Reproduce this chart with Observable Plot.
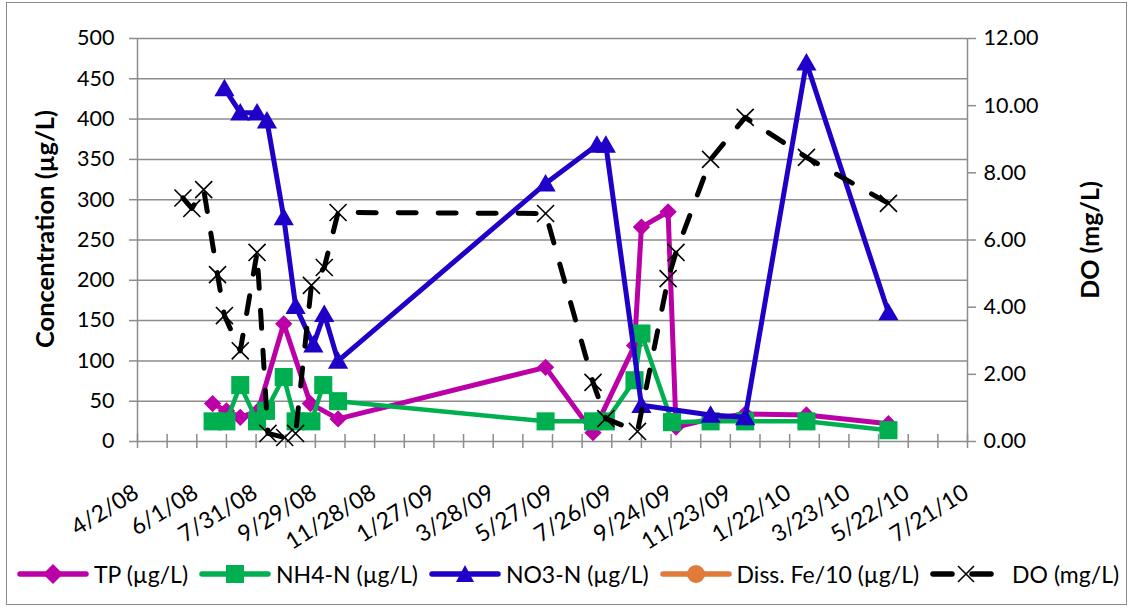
<!DOCTYPE html>
<html>
<head>
<meta charset="utf-8">
<script src="https://cdn.jsdelivr.net/npm/d3@7"></script>
<script src="https://cdn.jsdelivr.net/npm/@observablehq/plot@0.6"></script>
<style>
  html, body { margin: 0; padding: 0; background: #fff; }
  #wrap { position: relative; width: 1130px; height: 608px; font-family: Lato, "DejaVu Sans", sans-serif; }
  #border { position: absolute; left: 6px; top: 2px; width: 1121px; height: 603px; border: 1px solid #8a8a8a; box-sizing: border-box; pointer-events: none; }
  #legend { position: absolute; left: 17px; top: 542px; height: 64px; display: flex; align-items: center; font-size: 23px; color: #000; white-space: nowrap; }
  #legend .item { display: flex; align-items: center; margin-right: 11px; }
  #legend .item span { margin-left: 5px; }
</style>
</head>
<body>
<div id="wrap"><div id="chart"></div><div id="legend"></div><div id="border"></div></div>
<script>
// ---------- data ----------
const xTickLabels = ["4/2/08","6/1/08","7/31/08","9/29/08","11/28/08","1/27/09","3/28/09","5/27/09","7/26/09","9/24/09","11/23/09","1/22/10","3/23/10","5/22/10","7/21/10"];
const yTicks = [0,50,100,150,200,250,300,350,400,450,500];
const doTicks = [0,2,4,6,8,10,12];

const tpDates  = ["2008-06-17","2008-07-01","2008-07-15","2008-08-02","2008-08-28","2008-09-24","2008-10-22","2009-05-20","2009-07-07","2009-08-18","2009-08-25","2009-09-21","2009-09-29","2009-11-03","2009-12-08","2010-02-08","2010-05-02"];
const tpValues = [47,38,30,38,146,47,28,92,11,119,266,285,18,28,34,33,22];

const nh4Dates  = ["2008-06-17","2008-07-01","2008-07-15","2008-08-01","2008-08-10","2008-08-28","2008-09-09","2008-09-25","2008-10-07","2008-10-22","2009-05-20","2009-07-07","2009-07-20","2009-08-18","2009-08-25","2009-09-25","2009-11-03","2009-12-08","2010-02-08","2010-05-02"];
const nh4Values = [25,25,70,25,38,80,25,25,70,50,25,25,25,76,134,24,25,25,25,14];

const no3Dates  = ["2008-06-29","2008-07-15","2008-08-01","2008-08-11","2008-08-28","2008-09-09","2008-09-27","2008-10-08","2008-10-22","2009-05-20","2009-07-11","2009-07-20","2009-08-25","2009-11-03","2009-12-08","2010-02-08","2010-05-02"];
const no3Values = [438,408,408,398,278,168,120,158,100,320,368,368,45,33,30,470,160];

const feDates  = [];
const feValues = [];

const doDates  = ["2008-05-18","2008-05-27","2008-06-08","2008-06-22","2008-06-29","2008-07-15","2008-08-01","2008-08-12","2008-08-29","2008-09-09","2008-09-25","2008-10-08","2008-10-22","2009-05-20","2009-07-07","2009-07-20","2009-08-21","2009-09-21","2009-09-29","2009-11-03","2009-12-08","2010-02-08","2010-05-02"];
const doValues = [7.25,6.94,7.5,4.97,3.75,2.7,5.63,0.24,0.12,0.24,4.65,5.18,6.82,6.79,1.76,0.68,0.3,4.85,5.63,8.4,9.65,8.46,7.09];

const seriesNames = ["TP (µg/L)","NH4-N (µg/L)","NO3-N (µg/L)","Diss. Fe/10 (µg/L)","DO (mg/L)"];
const colors = ["#BC00A8","#00B050","#1E00C8","#E07B39","#000000"];

// ---------- build ----------
const parseTick = d3.utcParse("%m/%d/%y");
const tickDates = xTickLabels.map(parseTick);
const start = tickDates[0], end = tickDates[tickDates.length - 1];
const minorTicks = d3.range(0, 29).map(i => d3.utcDay.offset(start, 30 * i));
const rows = (dates, vals) => dates.map((d, i) => ({date: new Date(d + "T00:00:00Z"), value: vals[i]}));
const tp = rows(tpDates, tpValues), nh4 = rows(nh4Dates, nh4Values), no3 = rows(no3Dates, no3Values), fe = rows(feDates, feValues), dO = rows(doDates, doValues);
const k = 500 / 12;

const chart = Plot.plot({
  width: 1130, height: 540,
  marginLeft: 137, marginRight: 163, marginTop: 38, marginBottom: 99,
  style: {fontFamily: "Lato, sans-serif", fontSize: "21px", color: "#000", background: "transparent", overflow: "visible"},
  x: {type: "utc", domain: [start, end], axis: null},
  y: {domain: [0, 500]},
  marks: [
    Plot.gridY(yTicks.slice(1), {stroke: "#8c8c8c", strokeOpacity: 1, strokeWidth: 1.5}),
    Plot.ruleX([start, end], {stroke: "#8c8c8c", strokeWidth: 1.5}),
    Plot.ruleY([0], {stroke: "#8c8c8c", strokeWidth: 1.5}),
    Plot.ruleX(minorTicks, {y1: () => 0, y2: () => 0, insetTop: -7, insetBottom: -7, stroke: "#8c8c8c", strokeWidth: 1.5}),
    Plot.axisY(yTicks, {anchor: "left", tickSize: 8, tickPadding: 15, stroke: "#8c8c8c", strokeWidth: 1.5, fill: "#000", label: null, fontSize: 21.5}),
    Plot.axisY(doTicks.map(d => d * k), {anchor: "right", tickSize: 8, tickPadding: 8, stroke: "#8c8c8c", strokeWidth: 1.5, fill: "#000", label: null, fontSize: 21.5, tickFormat: d => (d / k).toFixed(2)}),
    Plot.text(xTickLabels, {x: (d, i) => tickDates[i], frameAnchor: "bottom", rotate: -32, textAnchor: "end", lineAnchor: "middle", dx: -1, dy: 49, fontSize: 23}),
    Plot.text(["Concentration (µg/L)"], {frameAnchor: "left", textAnchor: "middle", rotate: -90, dx: -92, dy: -11, fontWeight: "bold", fontSize: 25.5}),
    Plot.text(["DO (mg/L)"], {frameAnchor: "right", textAnchor: "middle", rotate: -90, dx: 123, fontWeight: "bold", fontSize: 25}),
    // TP
    Plot.line(tp, {x: "date", y: "value", stroke: colors[0], strokeWidth: 5, strokeLinejoin: "round"}),
    Plot.dot(tp, {x: "date", y: "value", symbol: "diamond2", r: 7.8, fill: colors[0], stroke: "none"}),
    // NH4
    Plot.line(nh4, {x: "date", y: "value", stroke: colors[1], strokeWidth: 4.5, strokeLinejoin: "round"}),
    Plot.dot(nh4, {x: "date", y: "value", symbol: "square", r: 10.2, fill: colors[1], stroke: "none"}),
    // NO3
    Plot.line(no3, {x: "date", y: "value", stroke: colors[2], strokeWidth: 5, strokeLinejoin: "round"}),
    Plot.dot(no3, {x: "date", y: "value", symbol: "triangle", r: 7.5, fill: colors[2], stroke: "none", dy: 2}),
    // Fe (no values)
    Plot.line(fe, {x: "date", y: "value", stroke: colors[3], strokeWidth: 5}),
    // DO
    Plot.line(dO, {x: "date", y: d => d.value * k, stroke: colors[4], strokeWidth: 5, strokeDasharray: "18,22", strokeLinecap: "round"}),
    Plot.dot(dO, {x: "date", y: d => d.value * k, symbol: "times", r: 7.8, stroke: "#000", strokeWidth: 1.6})
  ]
});
document.getElementById("chart").appendChild(chart);

// ---------- legend ----------
const sym = {
  0: '<path d="M36,1 L46,11 L36,21 L26,11 Z" fill="' + colors[0] + '"/>',
  1: '<rect x="27" y="2" width="18" height="18" fill="' + colors[1] + '"/>',
  2: '<path d="M36,2 L45,19 L27,19 Z" fill="' + colors[2] + '"/>',
  3: '<circle cx="36" cy="11" r="9" fill="' + colors[3] + '"/>',
  4: '<path d="M28,3 L44,19 M44,3 L28,19" stroke="#000" stroke-width="1.6"/>'
};
const legend = document.getElementById("legend");
seriesNames.forEach((name, i) => {
  const item = document.createElement("div");
  item.className = "item";
  const w = i === 4 ? 64 : 72;
  const line = i === 4
    ? '<line x1="3" y1="11" x2="22" y2="11" stroke="#000" stroke-width="5.5" stroke-linecap="round"/><line x1="42" y1="11" x2="61" y2="11" stroke="#000" stroke-width="5.5" stroke-linecap="round"/>'
    : '<line x1="3" y1="11" x2="' + (w - 3) + '" y2="11" stroke="' + colors[i] + '" stroke-width="5.5" stroke-linecap="round"/>';
  item.innerHTML = '<svg width="' + w + '" height="22">' + line + sym[i] + '</svg><span' + (i === 4 ? ' style="margin-left:18px"' : '') + '>' + name + '</span>';
  legend.appendChild(item);
});
</script>
</body>
</html>
